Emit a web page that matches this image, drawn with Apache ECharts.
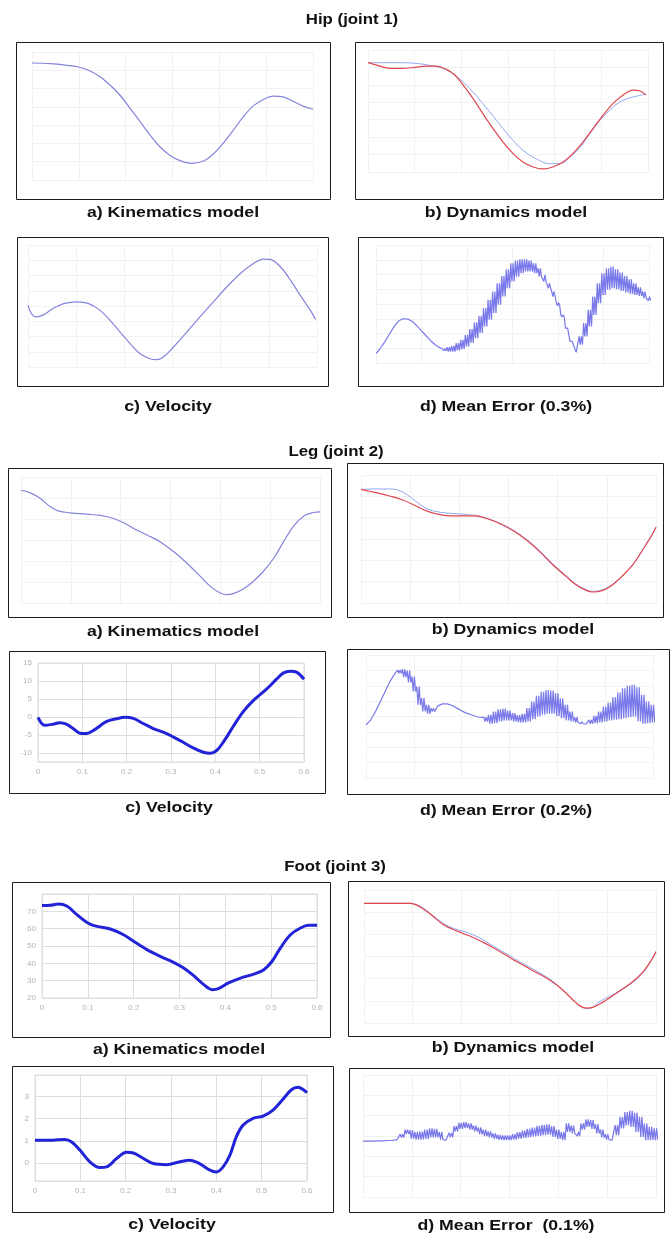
<!DOCTYPE html>
<html>
<head>
<meta charset="utf-8">
<title>Joint trajectories</title>
<script src="https://cdn.jsdelivr.net/npm/echarts@6/dist/echarts.min.js"></script>
<style>
  html, body { margin: 0; padding: 0; background: #fff; }
  #chart { width: 672px; height: 1236px; }
</style>
</head>
<body>
<div id="chart"></div>
<script>
// ---------- data ----------
// time axis (s)
const timeTicks = [0, 0.1, 0.2, 0.3, 0.4, 0.5, 0.6];
// sampling step of the mean-error envelopes
const errStep = 0.01;

// Hip (joint 1) — normalised to the plot height (0..100)
const hipKinematics = [[0,91.4],[0.039,90.9],[0.075,89.6],[0.1,88.3],[0.124,85.2],[0.146,80.5],[0.167,74.0],[0.188,66.2],[0.21,55.8],[0.231,45.5],[0.252,35.1],[0.273,26.0],[0.295,19.2],[0.316,15.1],[0.341,13.0],[0.366,14.8],[0.387,20.3],[0.408,28.6],[0.43,39.0],[0.451,49.4],[0.472,57.7],[0.494,62.9],[0.515,65.5],[0.536,64.9],[0.557,61.6],[0.579,57.7],[0.6,55.3]];
const hipDynamicsRef = [[0,89.6],[0.025,86.8],[0.05,84.9],[0.075,84.9],[0.1,85.8],[0.125,86.8],[0.146,86.8],[0.168,84.1],[0.186,79.5],[0.204,71.2],[0.225,60.3],[0.246,47.9],[0.268,35.6],[0.289,24.7],[0.311,15.1],[0.332,8.2],[0.354,4.1],[0.375,2.5],[0.396,4.1],[0.418,8.2],[0.439,15.1],[0.461,24.7],[0.482,35.6],[0.504,46.6],[0.525,56.2],[0.546,63.0],[0.568,67.1],[0.582,66.6],[0.596,63.0]];
const hipDynamicsOut = [[0,89.6],[0.032,89.6],[0.075,89.6],[0.104,89.0],[0.132,87.4],[0.161,84.9],[0.189,78.6],[0.218,68.5],[0.246,56.2],[0.275,42.5],[0.304,28.8],[0.332,17.8],[0.361,10.7],[0.389,6.8],[0.411,6.8],[0.432,11.8],[0.454,20.0],[0.475,31.0],[0.496,41.9],[0.518,50.7],[0.539,57.3],[0.561,60.8],[0.582,62.7],[0.596,63.8]];
const hipVelocity = [[0,50.7],[0.007,43.8],[0.017,41.1],[0.031,42.5],[0.052,47.9],[0.076,52.1],[0.101,53.4],[0.125,52.1],[0.149,46.6],[0.17,38.4],[0.191,28.8],[0.212,19.2],[0.232,11.0],[0.253,6.8],[0.267,6.0],[0.281,8.2],[0.302,16.4],[0.33,28.8],[0.357,41.1],[0.385,53.4],[0.413,65.8],[0.441,76.7],[0.468,84.9],[0.489,88.5],[0.503,88.2],[0.524,82.2],[0.545,71.2],[0.565,58.9],[0.586,46.6],[0.597,38.9]];
const hipErrHi = [7.9,12.7,18.3,24.8,31.0,35.8,37.5,37.2,35.2,31.5,27.3,23.1,18.9,15.5,13.0,12.1,13.5,14.6,16.9,19.7,23.9,28.7,34.4,40.0,46.5,53.5,60.6,67.6,73.8,79.4,84.5,86.8,87.9,87.9,86.8,84.5,80.3,74.6,67.6,60.6,51.3,40.8,29.6,18.3,9.0,22.5,33.8,45.1,56.3,67.6,76.1,80.3,81.7,79.4,76.6,73.8,71.0,67.6,64.2,60.6,56.3];
const hipErrLo = [7.9,12.7,18.3,24.8,31.0,35.8,37.5,37.2,35.2,31.5,27.3,23.1,18.9,15.5,13.0,10.4,9.6,9.6,10.7,11.8,14.1,16.9,21.1,25.4,31.0,36.6,42.3,49.3,56.3,63.4,69.0,73.2,76.1,77.5,77.5,76.1,73.2,69.0,63.4,56.3,48.5,38.9,28.2,17.5,9.0,15.5,22.5,31.0,40.8,50.7,57.7,62.0,63.4,62.5,61.1,59.7,58.6,57.7,56.9,54.9,53.0];

// Leg (joint 2)
const legKinematics = [[0,89.5],[0.019,87.4],[0.039,82.9],[0.059,76.3],[0.076,72.9],[0.099,71.6],[0.132,70.5],[0.159,69.5],[0.186,67.1],[0.206,63.7],[0.226,59.2],[0.253,53.9],[0.279,48.7],[0.306,40.8],[0.333,31.6],[0.36,21.1],[0.38,13.2],[0.4,7.9],[0.413,6.6],[0.426,7.4],[0.446,11.1],[0.466,17.1],[0.486,25.0],[0.507,35.5],[0.527,48.7],[0.547,61.1],[0.567,68.9],[0.587,71.8],[0.6,72.4]];
const legDynamicsRef = [[0,88.8],[0.031,86.2],[0.058,83.6],[0.085,80.5],[0.112,75.8],[0.132,72.2],[0.153,69.6],[0.18,68.1],[0.207,68.1],[0.234,68.1],[0.254,66.2],[0.281,62.3],[0.309,56.6],[0.336,49.4],[0.363,40.3],[0.39,29.9],[0.417,20.8],[0.437,14.3],[0.458,9.9],[0.471,8.6],[0.492,9.9],[0.512,14.3],[0.532,21.3],[0.553,29.9],[0.573,41.6],[0.59,51.9],[0.6,59.2]];
const legDynamicsOut = [[0,88.8],[0.031,89.1],[0.058,89.1],[0.075,88.3],[0.092,85.2],[0.112,79.2],[0.132,74.0],[0.153,71.4],[0.18,70.1],[0.207,69.4],[0.234,68.3],[0.254,66.5],[0.281,62.6],[0.309,57.1],[0.336,49.9],[0.363,41.0],[0.39,30.6],[0.417,21.3],[0.437,14.8],[0.458,10.4],[0.475,9.1],[0.495,10.9],[0.515,15.6],[0.536,22.9],[0.556,31.7],[0.576,43.6],[0.6,59.2]];
const legVelocity = [[0,-0.1],[0.015,-2.3],[0.034,-2.0],[0.049,-1.6],[0.064,-2.0],[0.079,-3.2],[0.098,-4.6],[0.109,-4.6],[0.128,-3.5],[0.154,-1.3],[0.177,-0.5],[0.196,-0.1],[0.215,-0.4],[0.237,-1.8],[0.26,-3.2],[0.29,-4.6],[0.32,-6.5],[0.35,-8.6],[0.373,-9.8],[0.388,-10.1],[0.403,-9.3],[0.418,-7.0],[0.44,-2.7],[0.463,1.5],[0.486,4.6],[0.516,7.8],[0.538,10.5],[0.553,12.2],[0.569,12.7],[0.584,12.4],[0.6,10.5]];
const legVelTicks = [-10, -5, 0, 5, 10, 15];
const legErrHi = [43.2,47.3,54.1,62.2,70.3,78.4,84.6,87.8,88.4,87.3,82.4,74.3,64.9,59.5,56.8,58.6,60.3,60.3,58.9,56.8,54.6,52.7,51.4,50.0,49.2,49.5,51.4,54.1,55.9,56.5,54.9,52.7,51.1,52.2,56.8,62.2,66.8,70.0,71.6,71.1,68.9,64.9,59.5,54.1,49.5,45.9,43.8,47.3,50.5,54.1,58.1,61.4,65.7,69.5,73.0,74.9,75.7,73.8,67.6,62.2,59.5];
const legErrLo = [43.2,47.3,54.1,62.2,70.3,78.4,84.6,85.1,81.9,77.6,70.3,59.5,54.1,52.2,54.1,58.6,60.3,60.3,58.9,56.8,54.6,52.7,51.4,50.0,49.2,45.9,44.1,44.6,45.9,46.8,46.8,45.9,45.1,45.1,45.9,47.8,50.0,51.4,52.2,52.2,50.5,48.6,46.8,45.9,45.1,44.1,43.8,44.1,44.6,45.1,45.9,46.8,47.3,47.8,48.6,49.5,50.0,45.9,44.1,44.6,45.1];

// Foot (joint 3)
const footKinematics = [[0,73.3],[0.018,73.5],[0.036,74.2],[0.055,72.9],[0.076,68.1],[0.1,63.3],[0.12,61.3],[0.149,59.8],[0.178,56.5],[0.2,52.7],[0.229,47.9],[0.258,44.0],[0.287,40.6],[0.309,37.3],[0.331,32.9],[0.353,27.7],[0.371,24.8],[0.385,25.4],[0.407,28.7],[0.433,31.5],[0.462,33.8],[0.484,36.3],[0.502,41.2],[0.52,48.8],[0.542,56.5],[0.564,60.4],[0.582,61.9],[0.6,61.9]];
const footKinTicks = [20, 30, 40, 50, 60, 70];
const footDynamicsRef = [[0,90],[0.045,90],[0.093,90],[0.106,89],[0.123,85.5],[0.141,80.5],[0.161,74.5],[0.182,70.5],[0.202,67.5],[0.223,64.5],[0.243,61],[0.264,57],[0.285,52.5],[0.305,48],[0.326,43.75],[0.346,39.5],[0.367,35.5],[0.387,31],[0.408,25],[0.429,17.5],[0.442,13.25],[0.456,11.25],[0.47,11.75],[0.49,15.5],[0.511,20.5],[0.531,25.5],[0.552,31],[0.573,38.25],[0.59,47],[0.6,53.75]];
const footDynamicsOut = [[0,90],[0.093,90],[0.11,88.75],[0.127,85],[0.144,80],[0.165,74.5],[0.185,71],[0.206,68.75],[0.226,66],[0.247,62],[0.267,57.5],[0.288,53],[0.309,48.5],[0.329,44.25],[0.35,40],[0.37,35.75],[0.391,30.5],[0.411,23.75],[0.432,16.25],[0.449,11.75],[0.463,10.75],[0.48,15],[0.497,18.75],[0.518,22.5],[0.538,27],[0.559,32.5],[0.579,40.5],[0.6,53.25]];
const footVelocity = [[0,1.03],[0.018,1.02],[0.04,1.03],[0.066,1.06],[0.081,0.95],[0.099,0.58],[0.121,0.05],[0.143,-0.21],[0.158,-0.18],[0.18,0.2],[0.202,0.48],[0.217,0.45],[0.239,0.2],[0.261,-0.03],[0.29,-0.08],[0.32,0.05],[0.341,0.12],[0.363,-0.03],[0.386,-0.33],[0.4,-0.41],[0.415,-0.18],[0.43,0.35],[0.444,1.18],[0.459,1.71],[0.481,2.02],[0.503,2.12],[0.525,2.39],[0.547,2.88],[0.565,3.3],[0.58,3.42],[0.591,3.33],[0.6,3.18]];
const footVelTicks = [0, 1, 2, 3];
const footErrHi = [45.8,45.8,45.8,46.0,46.0,46.3,46.3,47.1,51.5,55.3,54.8,53.4,53.7,55.3,56.2,55.9,53.4,46.6,52.6,58.1,60.8,61.4,60.3,58.6,57.0,55.3,53.7,52.1,51.0,50.4,50.4,51.5,53.2,54.5,55.9,57.0,58.4,59.2,59.5,58.1,55.3,53.4,60.3,58.6,53.4,60.3,63.6,63.0,59.7,55.3,51.5,46.6,58.9,65.8,69.6,70.7,69.0,65.8,60.3,57.5,56.2];
const footErrLo = [45.8,45.8,45.8,46.0,46.0,46.3,46.3,47.1,48.8,51.5,47.9,47.1,47.1,47.7,48.8,48.8,47.1,46.6,48.8,53.7,55.9,56.4,55.3,53.7,51.5,49.9,48.8,47.7,46.8,46.6,46.6,47.1,47.9,48.5,49.0,49.6,50.1,50.7,51.0,49.3,47.7,46.6,53.4,52.1,49.9,55.3,57.5,55.9,52.1,48.8,47.1,46.6,50.7,56.2,58.6,57.5,53.4,49.3,46.6,46.6,46.6];

// ---------- helpers ----------
// Mean-error traces swing between the upper and lower envelope twice per sample
function oscillation(hi, lo, step) {
  const pts = [];
  for (let i = 0; i < hi.length; i++) {
    const t = i * step;
    if (lo[i] === hi[i]) { pts.push([t, hi[i]]); continue; }
    pts.push([t - 3 * step / 8, hi[i]], [t - step / 8, lo[i]],
             [t + step / 8, hi[i]], [t + 3 * step / 8, lo[i]]);
  }
  return pts;
}

const COL = {
  trace: '#8484dc',
  ref: '#e2474f',
  out: '#90aaf2',
  bold: '#2222d8',
  err: '#7878ea',
  faintGrid: '#f2f2f2',
  grid: '#dedede',
  label: '#b3b3b3'
};

// panel layout: frame box, plot rectangle [x0,y0,x1,y1], caption and its centre
const panels = [
  { frame: [16, 42, 330, 199],  plot: [32, 52, 313, 180],  rows: 7, caption: 'a) Kinematics model',  cap: [173, 213] },
  { frame: [355, 42, 663, 199], plot: [368, 50, 648, 172], rows: 7, caption: 'b) Dynamics model',    cap: [506, 213] },
  { frame: [17, 237, 328, 386], plot: [28, 245, 317, 367], rows: 8, caption: 'c) Velocity',          cap: [168, 407] },
  { frame: [358, 237, 663, 386],plot: [376, 245, 649, 363],rows: 8, caption: 'd) Mean Error (0.3%)', cap: [506, 407] },
  { frame: [8, 468, 331, 617],  plot: [21, 477, 320, 603], rows: 6, caption: 'a) Kinematics model',  cap: [173, 632] },
  { frame: [347, 463, 663, 617],plot: [361, 475, 656, 603],rows: 6, caption: 'b) Dynamics model',    cap: [513, 630] },
  { frame: [9, 651, 325, 793],  plot: [38, 663, 304, 762], labeled: 'leg',  caption: 'c) Velocity',   cap: [169, 808] },
  { frame: [347, 649, 669, 794],plot: [366, 655, 653, 778],rows: 8, caption: 'd) Mean Error (0.2%)', cap: [506, 811] },
  { frame: [12, 882, 330, 1037],plot: [42, 894, 317, 998], labeled: 'footKin', caption: 'a) Kinematics model', cap: [179, 1050] },
  { frame: [348, 881, 664, 1036],plot: [364, 890, 656, 1023],rows: 6, caption: 'b) Dynamics model',  cap: [513, 1048] },
  { frame: [12, 1066, 333, 1212],plot: [35, 1075, 307, 1181], labeled: 'footVel', caption: 'c) Velocity', cap: [172, 1225] },
  { frame: [349, 1068, 664, 1212],plot: [363, 1075, 656, 1197],rows: 6, caption: 'd) Mean Error  (0.1%)', cap: [506, 1226] }
];

const sections = [
  { text: 'Hip (joint 1)',  pos: [352, 20] },
  { text: 'Leg (joint 2)',  pos: [336, 452] },
  { text: 'Foot (joint 3)', pos: [335, 867] }
];

// ---------- axes ----------
const grids = [], xAxes = [], yAxes = [];
panels.forEach((p, i) => {
  const [x0, y0, x1, y1] = p.plot;
  grids.push({
    left: x0, top: y0, width: x1 - x0, height: y1 - y0,
    containLabel: false, outerBoundsMode: 'none',
    show: !!p.labeled, borderColor: COL.grid, borderWidth: 1, backgroundColor: 'transparent'
  });
  const gridColor = p.labeled ? COL.grid : COL.faintGrid;
  xAxes.push({
    type: 'value', gridIndex: i,
    min: timeTicks[0], max: timeTicks[timeTicks.length - 1],
    interval: timeTicks[1] - timeTicks[0],
    axisLine: { show: false }, axisTick: { show: false },
    splitLine: { show: true, lineStyle: { color: gridColor, width: 1 } },
    axisLabel: p.labeled ? {
      show: true, color: COL.label, fontSize: 8, margin: 6,
      fontFamily: '"Liberation Sans", Arial, sans-serif',
      formatter: v => String(Math.round(v * 10) / 10)
    } : { show: false }
  });
  let y;
  if (!p.labeled) {
    y = { min: 0, max: 100, interval: 100 / p.rows, axisLabel: { show: false } };
  } else {
    const lab = {
      show: true, color: COL.label, fontSize: 8, margin: 6,
      fontFamily: '"Liberation Sans", Arial, sans-serif'
    };
    if (p.labeled === 'leg') {
      y = { min: -12.5, max: legVelTicks[legVelTicks.length - 1], splitNumber: 5,
            axisLabel: Object.assign({ showMinLabel: false }, lab) };
    } else if (p.labeled === 'footKin') {
      const step = footKinTicks[1] - footKinTicks[0];
      y = { min: footKinTicks[0], max: footKinTicks[footKinTicks.length - 1] + step, interval: step,
            axisLabel: Object.assign({ showMaxLabel: false }, lab) };
    } else {
      y = { min: -0.82, max: 3.98, splitNumber: 5,
            axisLabel: Object.assign({ showMinLabel: false, showMaxLabel: false }, lab) };
    }
  }
  yAxes.push(Object.assign({
    type: 'value', gridIndex: i,
    axisLine: { show: false }, axisTick: { show: false },
    splitLine: { show: true, lineStyle: { color: gridColor, width: 1 } }
  }, y));
});

// ---------- series ----------
function line(idx, data, color, width, extra) {
  return Object.assign({
    type: 'line', xAxisIndex: idx, yAxisIndex: idx, data,
    symbol: 'none', showSymbol: false, smooth: 0.35, silent: true,
    lineStyle: { color, width }, z: 3
  }, extra || {});
}

const series = [
  line(0, hipKinematics, COL.trace, 1.2),
  line(1, hipDynamicsOut, COL.out, 1),
  line(1, hipDynamicsRef, COL.ref, 1.2),
  line(2, hipVelocity, COL.trace, 1.2),
  line(3, oscillation(hipErrHi, hipErrLo, errStep), COL.err, 1.2, { smooth: false }),
  line(4, legKinematics, COL.trace, 1.2),
  line(5, legDynamicsOut, COL.out, 1),
  line(5, legDynamicsRef, COL.ref, 1.2),
  line(6, legVelocity, COL.bold, 3),
  line(7, oscillation(legErrHi, legErrLo, errStep), COL.err, 1.2, { smooth: false }),
  line(8, footKinematics, COL.bold, 3),
  line(9, footDynamicsOut, COL.out, 1),
  line(9, footDynamicsRef, COL.ref, 1.2),
  line(10, footVelocity, COL.bold, 3),
  line(11, oscillation(footErrHi, footErrLo, errStep), COL.err, 1.2, { smooth: false })
];

// ---------- frames and text ----------
const FONT = 'bold 15px "Liberation Sans", Arial, sans-serif';
const elements = [];
panels.forEach(p => {
  const [x0, y0, x1, y1] = p.frame;
  elements.push({
    type: 'rect', silent: true, z: 10,
    shape: { x: x0 + 0.5, y: y0 + 0.5, width: x1 - x0, height: y1 - y0 },
    style: { fill: 'none', stroke: '#1c1c1c', lineWidth: 1 }
  });
  elements.push({
    type: 'text', silent: true, x: p.cap[0], y: p.cap[1], scaleX: 1.18,
    style: { text: p.caption, font: FONT, fill: '#111', textAlign: 'center', textVerticalAlign: 'middle' }
  });
});
sections.forEach(s => {
  elements.push({
    type: 'text', silent: true, x: s.pos[0], y: s.pos[1], scaleX: 1.12,
    style: { text: s.text, font: FONT, fill: '#111', textAlign: 'center', textVerticalAlign: 'middle' }
  });
});

const chart = echarts.init(document.getElementById('chart'), null, { renderer: 'canvas' });
chart.setOption({
  animation: false,
  backgroundColor: '#ffffff',
  grid: grids,
  xAxis: xAxes,
  yAxis: yAxes,
  series: series,
  graphic: { elements: elements }
});
</script>
</body>
</html>
